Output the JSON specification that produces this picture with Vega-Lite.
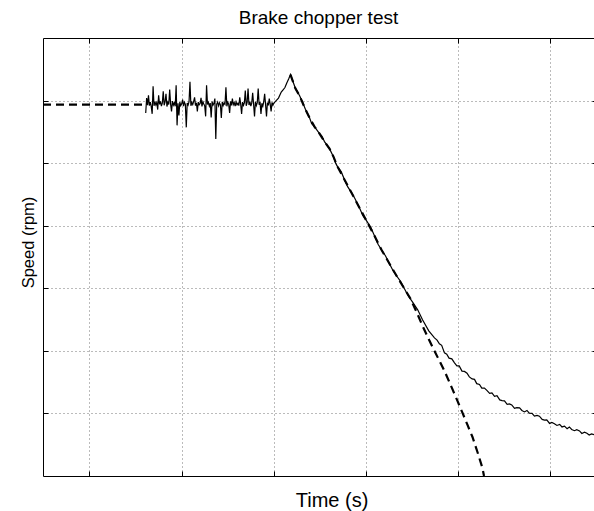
{
  "$schema": "https://vega.github.io/schema/vega-lite/v6.json",
  "autosize": {"type": "none"},
  "padding": {"left": 43, "top": 38, "right": 0, "bottom": 35},
  "width": 551,
  "height": 438,
  "background": "white",
  "title": {"text": "Brake chopper test", "font": "Liberation Sans", "fontSize": 19, "fontWeight": "normal", "color": "black", "anchor": "middle", "offset": 10},
  "config": {"view": {"stroke": null}},
  "datasets": {
    "measured": [
      {"t":1.61,"rpm":1450},{"t":1.62,"rpm":1510},{"t":1.63,"rpm":1482},{"t":1.64,"rpm":1521},{"t":1.65,"rpm":1480},{"t":1.66,"rpm":1494},{"t":1.67,"rpm":1476},{"t":1.68,"rpm":1447},{"t":1.69,"rpm":1557},{"t":1.70,"rpm":1479},
      {"t":1.71,"rpm":1496},{"t":1.72,"rpm":1483},{"t":1.73,"rpm":1492},{"t":1.74,"rpm":1464},{"t":1.75,"rpm":1521},{"t":1.76,"rpm":1485},{"t":1.77,"rpm":1497},{"t":1.78,"rpm":1478},{"t":1.79,"rpm":1490},{"t":1.80,"rpm":1537},
      {"t":1.81,"rpm":1481},{"t":1.82,"rpm":1495},{"t":1.83,"rpm":1527},{"t":1.84,"rpm":1476},{"t":1.85,"rpm":1493},{"t":1.86,"rpm":1484},{"t":1.87,"rpm":1544},{"t":1.88,"rpm":1486},{"t":1.89,"rpm":1457},{"t":1.90,"rpm":1498},
      {"t":1.91,"rpm":1482},{"t":1.92,"rpm":1491},{"t":1.93,"rpm":1477},{"t":1.94,"rpm":1561},{"t":1.95,"rpm":1401},{"t":1.96,"rpm":1489},{"t":1.97,"rpm":1441},{"t":1.98,"rpm":1494},{"t":1.99,"rpm":1480},{"t":2.00,"rpm":1487},
      {"t":2.01,"rpm":1504},{"t":2.02,"rpm":1478},{"t":2.03,"rpm":1493},{"t":2.04,"rpm":1485},{"t":2.05,"rpm":1393},{"t":2.06,"rpm":1490},{"t":2.07,"rpm":1482},{"t":2.08,"rpm":1496},{"t":2.09,"rpm":1575},{"t":2.10,"rpm":1479},
      {"t":2.11,"rpm":1492},{"t":2.12,"rpm":1484},{"t":2.13,"rpm":1497},{"t":2.14,"rpm":1513},{"t":2.15,"rpm":1480},{"t":2.16,"rpm":1491},{"t":2.17,"rpm":1457},{"t":2.18,"rpm":1494},{"t":2.19,"rpm":1483},{"t":2.20,"rpm":1488},
      {"t":2.21,"rpm":1511},{"t":2.22,"rpm":1477},{"t":2.23,"rpm":1495},{"t":2.24,"rpm":1486},{"t":2.25,"rpm":1479},{"t":2.26,"rpm":1437},{"t":2.27,"rpm":1561},{"t":2.28,"rpm":1484},{"t":2.29,"rpm":1493},{"t":2.30,"rpm":1478},
      {"t":2.31,"rpm":1490},{"t":2.32,"rpm":1433},{"t":2.33,"rpm":1496},{"t":2.34,"rpm":1482},{"t":2.35,"rpm":1489},{"t":2.36,"rpm":1508},{"t":2.37,"rpm":1347},{"t":2.38,"rpm":1486},{"t":2.39,"rpm":1494},{"t":2.40,"rpm":1479},
      {"t":2.41,"rpm":1491},{"t":2.42,"rpm":1483},{"t":2.43,"rpm":1431},{"t":2.44,"rpm":1495},{"t":2.45,"rpm":1480},{"t":2.46,"rpm":1490},{"t":2.47,"rpm":1485},{"t":2.48,"rpm":1553},{"t":2.49,"rpm":1477},{"t":2.50,"rpm":1493},
      {"t":2.51,"rpm":1486},{"t":2.52,"rpm":1451},{"t":2.53,"rpm":1497},{"t":2.54,"rpm":1481},{"t":2.55,"rpm":1508},{"t":2.56,"rpm":1484},{"t":2.57,"rpm":1492},{"t":2.58,"rpm":1478},{"t":2.59,"rpm":1495},{"t":2.60,"rpm":1483},
      {"t":2.61,"rpm":1489},{"t":2.62,"rpm":1480},{"t":2.63,"rpm":1513},{"t":2.64,"rpm":1486},{"t":2.65,"rpm":1447},{"t":2.66,"rpm":1494},{"t":2.67,"rpm":1481},{"t":2.68,"rpm":1491},{"t":2.69,"rpm":1540},{"t":2.70,"rpm":1479},
      {"t":2.71,"rpm":1493},{"t":2.72,"rpm":1548},{"t":2.73,"rpm":1482},{"t":2.74,"rpm":1496},{"t":2.75,"rpm":1478},{"t":2.76,"rpm":1490},{"t":2.77,"rpm":1531},{"t":2.78,"rpm":1485},{"t":2.79,"rpm":1437},{"t":2.80,"rpm":1495},
      {"t":2.81,"rpm":1480},{"t":2.82,"rpm":1492},{"t":2.83,"rpm":1548},{"t":2.84,"rpm":1483},{"t":2.85,"rpm":1494},{"t":2.86,"rpm":1447},{"t":2.87,"rpm":1489},{"t":2.88,"rpm":1478},{"t":2.89,"rpm":1496},{"t":2.90,"rpm":1527},
      {"t":2.91,"rpm":1484},{"t":2.92,"rpm":1437},{"t":2.93,"rpm":1492},{"t":2.94,"rpm":1481},{"t":2.95,"rpm":1508},{"t":2.96,"rpm":1486},{"t":2.97,"rpm":1457},{"t":2.98,"rpm":1493},{"t":2.99,"rpm":1482},{"t":3.00,"rpm":1490},
      {"t":3.02,"rpm":1498},{"t":3.05,"rpm":1510},{"t":3.08,"rpm":1534},{"t":3.10,"rpm":1543},{"t":3.12,"rpm":1552},{"t":3.14,"rpm":1570},{"t":3.16,"rpm":1586},{"t":3.18,"rpm":1604},
      {"t":3.234,"rpm":1548},{"t":3.278,"rpm":1520},{"t":3.31,"rpm":1494},{"t":3.343,"rpm":1464},{"t":3.386,"rpm":1432},{"t":3.41,"rpm":1408},{"t":3.44,"rpm":1396},{"t":3.495,"rpm":1368},{"t":3.52,"rpm":1358},{"t":3.549,"rpm":1336},
      {"t":3.603,"rpm":1308},{"t":3.646,"rpm":1276},{"t":3.67,"rpm":1250},{"t":3.69,"rpm":1236},{"t":3.73,"rpm":1216},{"t":3.766,"rpm":1184},{"t":3.80,"rpm":1156},{"t":3.842,"rpm":1132},{"t":3.88,"rpm":1108},{"t":3.928,"rpm":1072},
      {"t":3.966,"rpm":1040},{"t":4.004,"rpm":1020},{"t":4.05,"rpm":994},{"t":4.091,"rpm":960},{"t":4.13,"rpm":926},{"t":4.167,"rpm":904},{"t":4.21,"rpm":880},{"t":4.254,"rpm":848},{"t":4.29,"rpm":822},{"t":4.33,"rpm":800},
      {"t":4.37,"rpm":780},{"t":4.416,"rpm":748},{"t":4.46,"rpm":718},{"t":4.503,"rpm":696},{"t":4.56,"rpm":664},{"t":4.612,"rpm":624},{"t":4.68,"rpm":580},{"t":4.742,"rpm":552},
      {"t":4.77,"rpm":543},{"t":4.795,"rpm":528},{"t":4.82,"rpm":522},{"t":4.85,"rpm":492},{"t":4.875,"rpm":487},{"t":4.90,"rpm":471},{"t":4.93,"rpm":468},{"t":4.959,"rpm":452},{"t":4.985,"rpm":440},{"t":5.01,"rpm":440},
      {"t":5.04,"rpm":419},{"t":5.067,"rpm":418},{"t":5.095,"rpm":411},{"t":5.12,"rpm":396},{"t":5.15,"rpm":388},{"t":5.176,"rpm":386},{"t":5.20,"rpm":369},{"t":5.23,"rpm":366},{"t":5.255,"rpm":351},{"t":5.284,"rpm":351},
      {"t":5.31,"rpm":342},{"t":5.34,"rpm":330},{"t":5.365,"rpm":332},{"t":5.393,"rpm":318},{"t":5.42,"rpm":321},{"t":5.45,"rpm":304},{"t":5.475,"rpm":301},{"t":5.501,"rpm":300},{"t":5.53,"rpm":286},{"t":5.555,"rpm":288},
      {"t":5.58,"rpm":284},{"t":5.61,"rpm":270},{"t":5.635,"rpm":273},{"t":5.665,"rpm":272},{"t":5.69,"rpm":262},{"t":5.718,"rpm":256},{"t":5.745,"rpm":262},{"t":5.77,"rpm":251},{"t":5.80,"rpm":250},{"t":5.826,"rpm":239},
      {"t":5.855,"rpm":242},{"t":5.88,"rpm":239},{"t":5.91,"rpm":226},{"t":5.935,"rpm":223},{"t":5.96,"rpm":224},{"t":5.99,"rpm":210},{"t":6.015,"rpm":214},{"t":6.043,"rpm":209},{"t":6.07,"rpm":202},{"t":6.10,"rpm":206},
      {"t":6.125,"rpm":196},{"t":6.152,"rpm":199},{"t":6.18,"rpm":189},{"t":6.205,"rpm":196},{"t":6.23,"rpm":186},{"t":6.26,"rpm":181},{"t":6.285,"rpm":185},{"t":6.315,"rpm":180},{"t":6.34,"rpm":170},{"t":6.369,"rpm":175},
      {"t":6.395,"rpm":171},{"t":6.42,"rpm":164},{"t":6.445,"rpm":168},{"t":6.472,"rpm":165}
    ],
    "model": [
      {"t":0.496,"rpm":1484,"part":"a"},{"t":1.60,"rpm":1484,"part":"a"},
      {"t":3.18,"rpm":1604,"part":"b"},{"t":3.234,"rpm":1548,"part":"b"},{"t":3.278,"rpm":1520,"part":"b"},{"t":3.343,"rpm":1464,"part":"b"},{"t":3.386,"rpm":1432,"part":"b"},{"t":3.44,"rpm":1396,"part":"b"},{"t":3.495,"rpm":1368,"part":"b"},{"t":3.549,"rpm":1336,"part":"b"},
      {"t":3.603,"rpm":1308,"part":"b"},{"t":3.646,"rpm":1276,"part":"b"},{"t":3.69,"rpm":1236,"part":"b"},{"t":3.766,"rpm":1184,"part":"b"},{"t":3.842,"rpm":1132,"part":"b"},{"t":3.928,"rpm":1072,"part":"b"},{"t":4.004,"rpm":1020,"part":"b"},{"t":4.091,"rpm":960,"part":"b"},{"t":4.167,"rpm":904,"part":"b"},{"t":4.254,"rpm":848,"part":"b"},
      {"t":4.33,"rpm":800,"part":"b"},{"t":4.416,"rpm":748,"part":"b"},{"t":4.482,"rpm":708,"part":"b"},{"t":4.547,"rpm":656,"part":"b"},{"t":4.612,"rpm":600,"part":"b"},{"t":4.688,"rpm":540,"part":"b"},{"t":4.774,"rpm":476,"part":"b"},{"t":4.85,"rpm":420,"part":"b"},{"t":4.926,"rpm":356,"part":"b"},{"t":4.991,"rpm":300,"part":"b"},
      {"t":5.046,"rpm":252,"part":"b"},{"t":5.10,"rpm":204,"part":"b"},{"t":5.154,"rpm":156,"part":"b"},{"t":5.208,"rpm":96,"part":"b"},{"t":5.262,"rpm":32,"part":"b"},{"t":5.279,"rpm":0,"part":"b"}
    ]
  },
  "layer": [
    {
      "data": {"name": "measured"},
      "mark": {"type": "line", "color": "black", "strokeWidth": 1.2, "clip": true},
      "encoding": {
        "x": {"field": "t", "type": "quantitative", "scale": {"domain": [0.496, 6.472], "nice": false, "zero": false},
          "axis": {"orient": "bottom", "values": [1, 2, 3, 4, 5, 6], "labels": false, "grid": true, "gridColor": "#777777", "gridDash": [1, 3], "gridWidth": 1, "domainColor": "black", "domainWidth": 1, "tickColor": "black", "tickSize": -5, "tickWidth": 1,
            "title": "Time (s)", "titleFont": "Liberation Sans", "titleFontSize": 20, "titleFontWeight": "normal", "titleColor": "black", "titleX": 288.5, "titleY": 30, "titleBaseline": "alphabetic", "titleAlign": "center"}},
        "y": {"field": "rpm", "type": "quantitative", "scale": {"domain": [0, 1750], "nice": false, "zero": false},
          "axis": {"orient": "left", "values": [250, 500, 750, 1000, 1250, 1500], "labels": false, "grid": true, "gridColor": "#777777", "gridDash": [1, 3], "gridWidth": 1, "domainColor": "black", "domainWidth": 1, "tickColor": "black", "tickSize": -5, "tickWidth": 1,
            "title": "Speed (rpm)", "titleFont": "Liberation Sans", "titleFontSize": 16.5, "titleFontWeight": "normal", "titleColor": "black", "titleX": -10, "titleY": 204, "titleAngle": 270, "titleBaseline": "alphabetic", "titleAlign": "center"}}
      }
    },
    {
      "data": {"name": "model"},
      "mark": {"type": "line", "color": "black", "strokeWidth": 2.2, "strokeDash": [8, 5], "clip": true},
      "encoding": {
        "x": {"field": "t", "type": "quantitative", "scale": {"domain": [0.496, 6.472], "nice": false, "zero": false},
          "axis": {"orient": "top", "values": [1, 2, 3, 4, 5, 6], "labels": false, "grid": false, "domainColor": "black", "domainWidth": 1, "tickColor": "black", "tickSize": -5, "tickWidth": 1, "title": null}},
        "y": {"field": "rpm", "type": "quantitative", "scale": {"domain": [0, 1750], "nice": false, "zero": false},
          "axis": {"orient": "right", "values": [250, 500, 750, 1000, 1250, 1500], "labels": false, "grid": false, "domain": false, "tickColor": "black", "tickSize": -2, "tickWidth": 1, "title": null}},
        "detail": {"field": "part", "type": "nominal"}
      }
    }
  ],
  "resolve": {"axis": {"x": "independent", "y": "independent"}}
}
